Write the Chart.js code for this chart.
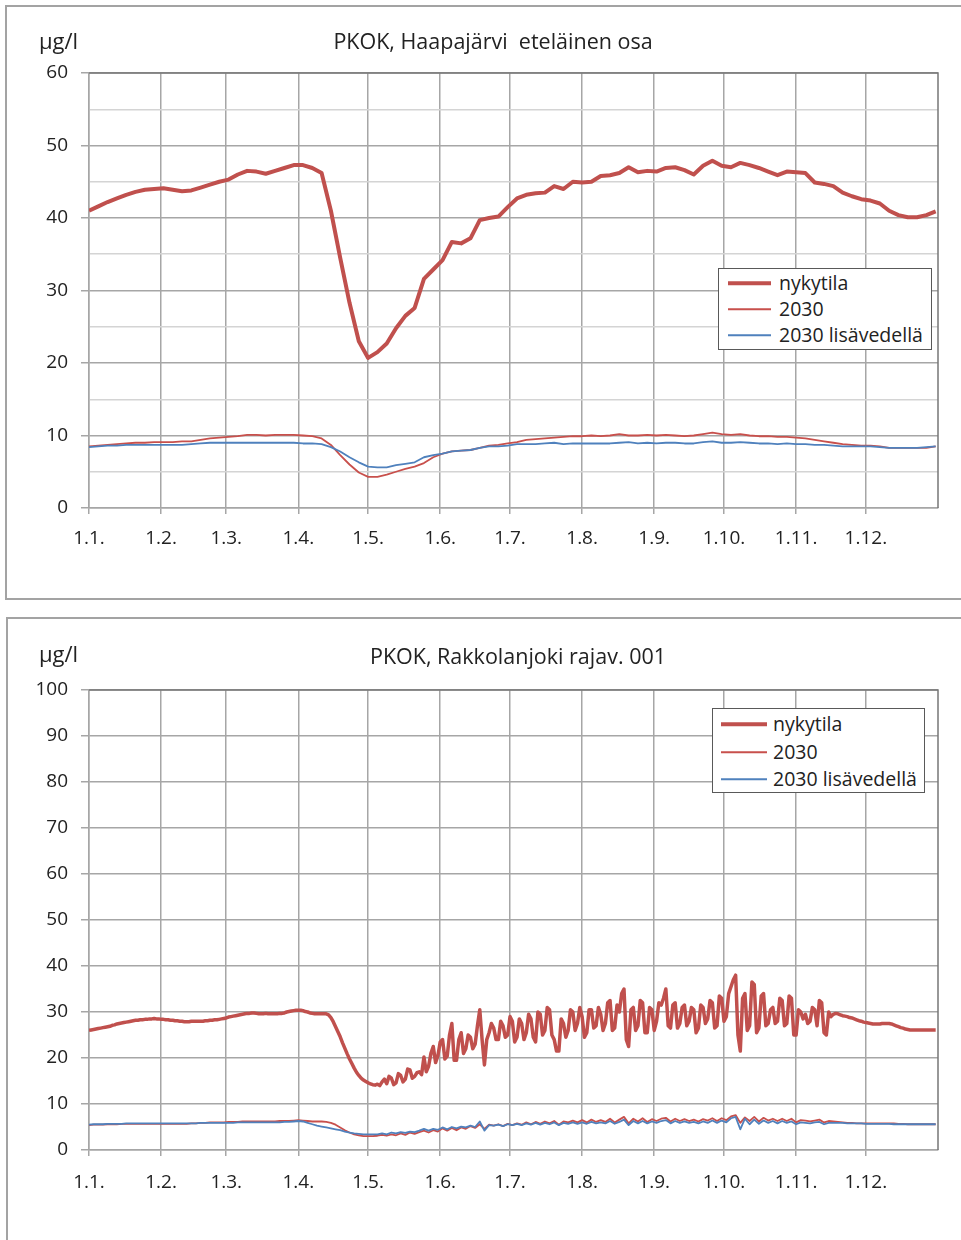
<!DOCTYPE html>
<html><head><meta charset="utf-8">
<script src="https://cdn.jsdelivr.net/npm/chart.js@4.4.1/dist/chart.umd.min.js"></script>
<style>
html,body{margin:0;padding:0;background:#fff;}
body{width:961px;height:1240px;position:relative;overflow:hidden;font-family:'Open Sans',sans-serif;color:#222;}
.box{position:absolute;border:2px solid #a3a3a3;box-sizing:border-box;}
canvas{position:absolute;left:0;}
.txt{position:absolute;white-space:pre;line-height:1;}
.ctr{transform:translate(-50%,-50%);}
.lft{transform:translate(0,-50%);}
.legend{position:absolute;border:1.5px solid #595959;background:#fff;box-sizing:border-box;}
.legend .row{position:absolute;left:0;display:flex;align-items:center;transform:translate(0,-50%);}
.legend .sw{display:inline-block;}
.legend .lb{font-size:19.5px;white-space:nowrap;line-height:1;}
</style></head>
<body>
<div class="box" style="left:5px;top:5px;width:1000px;height:595px;"></div>
<div class="box" style="left:6px;top:617px;width:1000px;height:700px;"></div>
<canvas id="c1" width="961" height="600" style="top:0;width:961px;height:600px;"></canvas>
<canvas id="c2" width="961" height="630" style="top:610px;width:961px;height:630px;"></canvas>
<div class="txt lft" id="u1" style="left:39px;top:40px;font-size:22px;"></div>
<div class="txt ctr" id="t1" style="left:493px;top:41px;font-size:21.5px;"></div>
<div class="txt lft" id="u2" style="left:39px;top:653px;font-size:22px;"></div>
<div class="txt ctr" id="t2" style="left:518px;top:656px;font-size:21.5px;"></div>
<div class="legend" id="lg1" style="left:718px;top:268px;width:214px;height:82px;"></div>
<div class="legend" id="lg2" style="left:712px;top:708px;width:213px;height:85px;"></div>
<script>
// ---------- texts ----------
const unitLabel = "µg/l";
const topTitle = "PKOK, Haapajärvi  eteläinen osa";
const bottomTitle = "PKOK, Rakkolanjoki rajav. 001";
const seriesNames = ["nykytila", "2030", "2030 lisävedellä"];

// ---------- x axis (day of year) ----------
const monthStarts = [0, 31, 59, 90, 120, 151, 181, 212, 243, 273, 304, 334];
const monthLabels = ["1.1.", "1.2.", "1.3.", "1.4.", "1.5.", "1.6.", "1.7.", "1.8.", "1.9.", "1.10.", "1.11.", "1.12."];
const topSampleStep = 4;        // days between read-off samples, top chart
const bottomNykySampleStep = 1; // bottom chart nykytila: daily samples
const bottomSampleStep = 2;     // bottom chart 2030 series: every 2nd day

// ---------- top chart: PKOK, Haapajärvi eteläinen osa (every 4th day) ----------
const topNykytila = [
  41.0, 41.6, 42.2, 42.7, 43.2, 43.6, 43.9, 44.0, 44.1, 43.9,
  43.7, 43.8, 44.2, 44.6, 45.0, 45.3, 46.0, 46.5, 46.4, 46.1,
  46.5, 46.9, 47.3, 47.3, 46.9, 46.2, 41.0, 34.5, 28.3, 23.0,
  20.7, 21.5, 22.7, 24.8, 26.5, 27.6, 31.6, 32.9, 34.2, 36.7,
  36.5, 37.2, 39.7, 40.0, 40.2, 41.5, 42.7, 43.2, 43.4, 43.5,
  44.4, 44.0, 45.0, 44.9, 45.0, 45.8, 45.9, 46.2, 47.0, 46.3,
  46.5, 46.4, 46.9, 47.0, 46.6, 46.0, 47.2, 47.9, 47.2, 47.0,
  47.6, 47.3, 46.9, 46.4, 45.9, 46.4, 46.3, 46.2, 44.9, 44.7,
  44.4, 43.5, 43.0, 42.6, 42.4, 42.0, 41.0, 40.4, 40.1, 40.1,
  40.4, 40.9
];
const top2030 = [
  8.5, 8.6, 8.7, 8.8, 8.9, 9.0, 9.0, 9.1, 9.1, 9.1,
  9.2, 9.2, 9.4, 9.6, 9.7, 9.8, 9.9, 10.1, 10.1, 10.0,
  10.1, 10.1, 10.1, 10.0, 9.9, 9.6, 8.7, 7.3, 6.0, 4.9,
  4.3, 4.3, 4.6, 5.0, 5.4, 5.7, 6.2, 7.0, 7.5, 7.8,
  7.9, 8.0, 8.3, 8.6, 8.7, 8.9, 9.1, 9.4, 9.5, 9.6,
  9.7, 9.8, 9.9, 9.9, 10.0, 9.9, 10.0, 10.2, 10.0, 10.0,
  10.1, 10.0, 10.1, 10.0, 9.9, 10.0, 10.2, 10.4, 10.2, 10.1,
  10.2, 10.0, 9.9, 9.9, 9.8, 9.8, 9.7, 9.6, 9.4, 9.2,
  9.0, 8.8, 8.7, 8.6, 8.6, 8.5, 8.3, 8.3, 8.3, 8.3,
  8.3, 8.5
];
const top2030Lisavedella = [
  8.4, 8.5, 8.6, 8.6, 8.7, 8.7, 8.7, 8.7, 8.7, 8.7,
  8.7, 8.8, 8.9, 9.0, 9.0, 9.0, 9.0, 9.0, 9.0, 9.0,
  9.0, 9.0, 9.0, 8.9, 8.9, 8.8, 8.4, 7.8, 7.0, 6.3,
  5.7, 5.6, 5.6, 5.9, 6.1, 6.3, 7.0, 7.3, 7.5, 7.8,
  7.9, 8.0, 8.3, 8.5, 8.5, 8.6, 8.8, 8.8, 8.8, 8.9,
  9.0, 8.8, 8.9, 8.9, 8.9, 8.9, 8.9, 9.0, 9.1, 8.9,
  9.0, 8.9, 9.0, 9.0, 8.9, 8.9, 9.1, 9.2, 9.0, 9.0,
  9.1, 9.0, 8.9, 8.9, 8.8, 8.9, 8.8, 8.8, 8.7, 8.7,
  8.6, 8.5, 8.5, 8.5, 8.5, 8.4, 8.3, 8.3, 8.3, 8.3,
  8.4, 8.5
];
const topYTicks = [0, 10, 20, 30, 40, 50, 60];

// ---------- bottom chart: PKOK, Rakkolanjoki rajav. 001 ----------
// nykytila, daily (day 0 .. 364)
const bottomNykytila = [
  26.0, 26.1, 26.2, 26.3, 26.4, 26.5, 26.6, 26.7, 26.8, 26.9,
  27.1, 27.2, 27.4, 27.5, 27.6, 27.7, 27.8, 27.9, 28.0, 28.1,
  28.2, 28.2, 28.3, 28.3, 28.4, 28.4, 28.5, 28.5, 28.6, 28.5,
  28.5, 28.4, 28.4, 28.3, 28.3, 28.2, 28.2, 28.1, 28.1, 28.0,
  28.0, 27.9, 27.9, 27.9, 28.0, 28.0, 28.0, 28.0, 28.0, 28.0,
  28.1, 28.1, 28.2, 28.2, 28.3, 28.3, 28.4, 28.5, 28.6, 28.7,
  28.9, 29.0, 29.1, 29.2, 29.3, 29.4, 29.5, 29.6, 29.7, 29.7,
  29.8, 29.8, 29.7, 29.6, 29.6, 29.6, 29.7, 29.6, 29.6, 29.6,
  29.6, 29.6, 29.7, 29.7, 29.8, 30.0, 30.1, 30.2, 30.3, 30.4,
  30.4, 30.4, 30.3, 30.1, 30.0, 29.8, 29.7, 29.6, 29.6, 29.6,
  29.6, 29.6, 29.6, 29.4, 28.8, 27.9, 26.8, 25.7, 24.6, 23.3,
  22.1, 20.9, 19.8, 18.8, 17.8, 16.9, 16.2, 15.6, 15.2, 14.9,
  14.6, 14.4, 14.2, 14.1, 14.3, 14.0, 14.8, 15.4, 14.4, 16.0,
  15.6, 14.2, 14.6, 16.6, 16.2, 14.8, 15.4, 17.6, 17.4, 15.6,
  16.0, 16.8, 17.0, 16.4, 20.2, 17.0, 18.2, 21.0, 22.5, 19.0,
  20.5, 23.5, 24.0, 19.8, 20.4, 25.0, 27.5, 19.5, 19.5, 24.0,
  25.5, 21.0, 22.0, 25.0, 24.5, 22.0, 23.0, 27.0, 30.5, 24.0,
  18.5, 24.0, 25.5, 27.5, 26.5, 24.0, 24.0, 28.0, 27.0, 24.5,
  25.0, 29.0, 28.0, 23.5, 24.5, 28.5, 27.5, 24.0, 25.5, 29.5,
  28.5, 24.5, 23.5, 30.0, 29.5, 25.0, 26.0, 31.0, 30.5, 25.0,
  24.0, 21.5, 21.5, 28.5, 27.5, 24.5, 26.0, 30.5, 30.0, 26.0,
  27.5, 31.0, 29.0, 24.5, 25.5, 30.5, 30.5, 26.5, 27.0, 31.0,
  29.5, 26.0, 27.5, 32.0, 32.5, 26.0, 26.5, 31.5, 30.0, 34.0,
  35.0, 24.0, 22.5, 30.5, 31.0, 26.0, 27.0, 32.5, 32.0, 25.5,
  25.5, 31.0, 30.5, 26.0, 28.0, 32.0, 31.5, 33.0, 35.0, 27.0,
  26.5, 31.5, 32.0, 26.5, 27.5, 31.0, 31.5, 27.0, 28.0, 31.0,
  30.5, 25.5, 26.5, 31.5, 31.0, 27.5, 28.5, 32.5, 32.0, 26.5,
  27.0, 33.5, 33.0, 28.0, 29.0, 34.0, 35.5, 37.0, 38.0, 25.0,
  21.5, 33.0, 34.0, 26.0, 27.0, 36.5, 36.0, 25.5, 26.5, 33.5,
  34.0, 27.0, 27.5, 30.5, 31.0, 27.5, 28.0, 33.0, 32.5, 27.0,
  27.5, 33.5, 33.0, 25.0, 25.0, 30.5, 30.0, 28.5, 29.5, 27.5,
  28.0, 31.0, 30.5, 27.0, 32.5, 32.0, 25.5, 25.0, 30.0, 29.0,
  29.5, 29.7, 29.6, 29.4, 29.2, 29.1, 29.0, 28.8, 28.7, 28.5,
  28.3, 28.1, 28.0, 27.8, 27.7, 27.6, 27.5, 27.4, 27.4, 27.4,
  27.4, 27.5, 27.5, 27.5, 27.5, 27.4, 27.2, 27.0, 26.8, 26.6,
  26.5, 26.3, 26.2, 26.1, 26.1, 26.1, 26.1, 26.1, 26.1, 26.1,
  26.1, 26.1, 26.1, 26.1, 26.1
];
// 2030 series, every 2nd day (day 0 .. 364)
const bottom2030 = [
  5.4, 5.5, 5.5, 5.5, 5.6, 5.6, 5.6, 5.7, 5.7, 5.7,
  5.7, 5.7, 5.7, 5.7, 5.7, 5.7, 5.7, 5.7, 5.7, 5.7,
  5.7, 5.7, 5.8, 5.8, 5.9, 5.9, 6.0, 6.0, 6.0, 6.0,
  6.1, 6.1, 6.1, 6.2, 6.2, 6.2, 6.2, 6.2, 6.2, 6.2,
  6.2, 6.3, 6.3, 6.3, 6.4, 6.5, 6.4, 6.3, 6.2, 6.2,
  6.2, 6.1, 5.9, 5.5, 4.9, 4.3, 3.8, 3.4, 3.2, 3.0,
  3.0, 3.0, 3.1, 3.3, 3.1, 3.4, 3.2, 3.6, 3.3, 3.8,
  3.5, 3.9, 4.2, 3.8, 4.3, 4.0, 4.7, 4.2, 4.8, 4.3,
  4.9, 4.6, 5.2, 4.8, 5.6, 4.6, 5.5, 5.3, 5.6, 5.2,
  5.7, 5.4, 5.8, 5.5, 6.0, 5.6, 6.1, 5.7, 6.2, 5.8,
  6.3, 5.5, 6.2, 6.0, 6.4, 6.0, 6.5, 6.0, 6.6, 6.1,
  6.5, 6.1, 6.8, 6.0, 6.6, 7.2, 5.8, 6.8, 6.2, 6.9,
  6.1, 6.7, 6.3, 6.8, 7.0, 6.2, 6.8, 6.3, 6.7, 6.3,
  6.6, 6.2, 6.7, 6.4, 6.9, 6.3, 6.9, 6.5, 7.3, 7.6,
  5.9, 7.1, 6.3, 7.2, 6.2, 7.0, 6.4, 6.8, 6.3, 6.8,
  6.3, 6.8, 6.0, 6.5, 6.4, 6.2, 6.4, 6.6, 6.0, 6.3,
  6.2, 6.1, 6.0, 5.9, 5.9, 5.8, 5.8, 5.8, 5.8, 5.8,
  5.8, 5.8, 5.8, 5.8, 5.7, 5.7, 5.6, 5.6, 5.6, 5.6,
  5.6, 5.6, 5.6
];
const bottom2030Lisavedella = [
  5.5, 5.6, 5.6, 5.6, 5.7, 5.7, 5.7, 5.7, 5.8, 5.8,
  5.8, 5.8, 5.8, 5.8, 5.8, 5.8, 5.8, 5.8, 5.8, 5.8,
  5.8, 5.8, 5.8, 5.8, 5.9, 5.9, 5.9, 5.9, 5.9, 5.9,
  5.9, 5.9, 6.0, 6.0, 6.0, 6.0, 6.0, 6.0, 6.0, 6.0,
  6.0, 6.0, 6.1, 6.1, 6.2, 6.3, 6.2, 5.9, 5.6, 5.3,
  5.1, 4.9, 4.7, 4.5, 4.3, 4.0, 3.8, 3.6, 3.5, 3.4,
  3.4, 3.4, 3.4, 3.6, 3.4, 3.8, 3.6, 3.9, 3.7, 4.0,
  3.9, 4.2, 4.6, 4.2, 4.6, 4.4, 4.9, 4.5, 5.0, 4.7,
  5.1, 4.9, 5.3, 5.0, 6.2, 4.2, 5.4, 5.3, 5.5, 5.2,
  5.6, 5.4, 5.7, 5.4, 5.8, 5.5, 5.9, 5.5, 5.9, 5.6,
  6.0, 5.4, 5.9, 5.7, 6.0, 5.7, 6.0, 5.7, 6.1, 5.8,
  6.0, 5.8, 6.3, 5.7, 6.1, 6.6, 5.4, 6.3, 5.8, 6.3,
  5.8, 6.2, 5.9, 6.3, 6.5, 5.8, 6.3, 5.9, 6.2, 5.9,
  6.1, 5.8, 6.2, 5.9, 6.4, 5.9, 6.4, 6.0, 6.9, 7.2,
  4.5, 6.8, 5.6, 6.6, 5.7, 6.4, 5.9, 6.3, 5.8, 6.3,
  5.9, 6.2, 5.6, 6.0, 5.9, 5.8, 6.0, 6.1, 5.6, 5.9,
  5.9, 5.9, 5.9, 5.8, 5.8, 5.8, 5.8, 5.7, 5.7, 5.7,
  5.7, 5.7, 5.7, 5.6, 5.6, 5.6, 5.6, 5.6, 5.6, 5.6,
  5.6, 5.6, 5.6
];
const bottomYTicks = [0, 10, 20, 30, 40, 50, 60, 70, 80, 90, 100];

// ---------- styling ----------
const RED = '#C0504D';
const RED_THIN = '#C8504C';
const BLUE = '#4F81BD';
const GRID = '#a6a6a6';
const MINOR = '#d4d4d4';
const FRAME = '#777777';
const TXT = '#222222';
const FONT = "'Open Sans', sans-serif";

Chart.defaults.font.family = FONT;
Chart.defaults.color = TXT;

function sampleDays(n, step) { return Array.from({length: n}, (_, i) => i * step); }
function pts(days, vals) { return vals.map((v, i) => ({x: days[i], y: v})); }

const framePlugin = {
  id: 'frame',
  beforeDatasetsDraw(chart) {
    const {ctx, chartArea: a} = chart;
    ctx.save();
    ctx.strokeStyle = FRAME;
    ctx.lineWidth = 1.5;
    ctx.beginPath();
    ctx.moveTo(a.left, a.top);
    ctx.lineTo(a.right, a.top);
    ctx.lineTo(a.right, a.bottom);
    ctx.stroke();
    ctx.restore();
  }
};

function makeChart(id, opts) {
  const colors = [RED, RED_THIN, BLUE];
  const datasets = opts.series.map((vals, i) => ({
    label: seriesNames[i],
    data: pts(sampleDays(vals.length, opts.steps[i]), vals),
    borderColor: colors[i],
    backgroundColor: colors[i],
    borderWidth: opts.widths[i],
    pointRadius: 0,
    tension: 0,
    fill: false,
    borderJoinStyle: 'round',
    order: 2 - i
  }));
  const yTicks = opts.yTicks;
  return new Chart(document.getElementById(id), {
    type: 'line',
    data: {datasets},
    options: {
      responsive: false,
      animation: false,
      devicePixelRatio: 1,
      layout: {padding: {top: opts.top, right: 23, left: 0, bottom: 0}},
      plugins: {legend: {display: false}, tooltip: {enabled: false}, title: {display: false}},
      scales: {
        x: {
          type: 'linear', min: 0, max: 365,
          afterBuildTicks: s => { s.ticks = monthStarts.map(v => ({value: v})); },
          ticks: {
            callback: v => monthLabels[monthStarts.indexOf(v)],
            font: {size: 19}, padding: opts.xPad, maxRotation: 0, autoSkip: false, color: TXT
          },
          grid: {color: GRID, lineWidth: 1.5, tickLength: 6, drawTicks: true},
          border: {color: GRID, width: 1.5},
          afterFit: s => { s.height = opts.xAxisH; }
        },
        y: {
          min: yTicks[0], max: yTicks[yTicks.length - 1],
          ticks: {
            stepSize: opts.minorStep,
            callback: v => (yTicks.includes(v) ? String(v) : ''),
            font: {size: 19}, padding: 13, color: TXT
          },
          grid: {
            color: c => (c.tick && !yTicks.includes(c.tick.value) ? MINOR : GRID),
            tickColor: c => (c.tick && !yTicks.includes(c.tick.value) ? 'rgba(0,0,0,0)' : GRID),
            lineWidth: 1.5, tickLength: 8
          },
          border: {color: GRID, width: 1.5},
          afterFit: s => { s.width = 89; }
        }
      }
    },
    plugins: [framePlugin]
  });
}

function buildLegend(elId, chart, rows, sw) {
  const el = document.getElementById(elId);
  chart.data.datasets.forEach((d, i) => {
    const row = document.createElement('div');
    row.className = 'row';
    row.style.top = rows[i] + 'px';
    const s = document.createElement('span');
    s.className = 'sw';
    s.style.width = sw.w + 'px';
    s.style.marginLeft = sw.left + 'px';
    s.style.marginRight = sw.gap + 'px';
    s.style.height = Math.max(2, d.borderWidth) + 'px';
    s.style.background = d.borderColor;
    const t = document.createElement('span');
    t.className = 'lb';
    t.textContent = d.label;
    row.appendChild(s); row.appendChild(t);
    el.appendChild(row);
  });
}

document.getElementById('u1').textContent = unitLabel;
document.getElementById('u2').textContent = unitLabel;
document.getElementById('t1').textContent = topTitle;
document.getElementById('t2').textContent = bottomTitle;

const chart1 = makeChart('c1', {
  series: [topNykytila, top2030, top2030Lisavedella],
  steps: [topSampleStep, topSampleStep, topSampleStep], widths: [4, 1.8, 1.8],
  yTicks: topYTicks, minorStep: 5, top: 73, xAxisH: 92, xPad: 13
});
const chart2 = makeChart('c2', {
  series: [bottomNykytila, bottom2030, bottom2030Lisavedella],
  steps: [bottomNykySampleStep, bottomSampleStep, bottomSampleStep], widths: [3.5, 1.8, 1.8],
  yTicks: bottomYTicks, minorStep: 10, top: 80, xAxisH: 90, xPad: 15
});
buildLegend('lg1', chart1, [14, 40, 66], {left: 9, w: 43, gap: 8});
buildLegend('lg2', chart2, [15, 43, 70], {left: 8, w: 46, gap: 6});
</script>
</body></html>
